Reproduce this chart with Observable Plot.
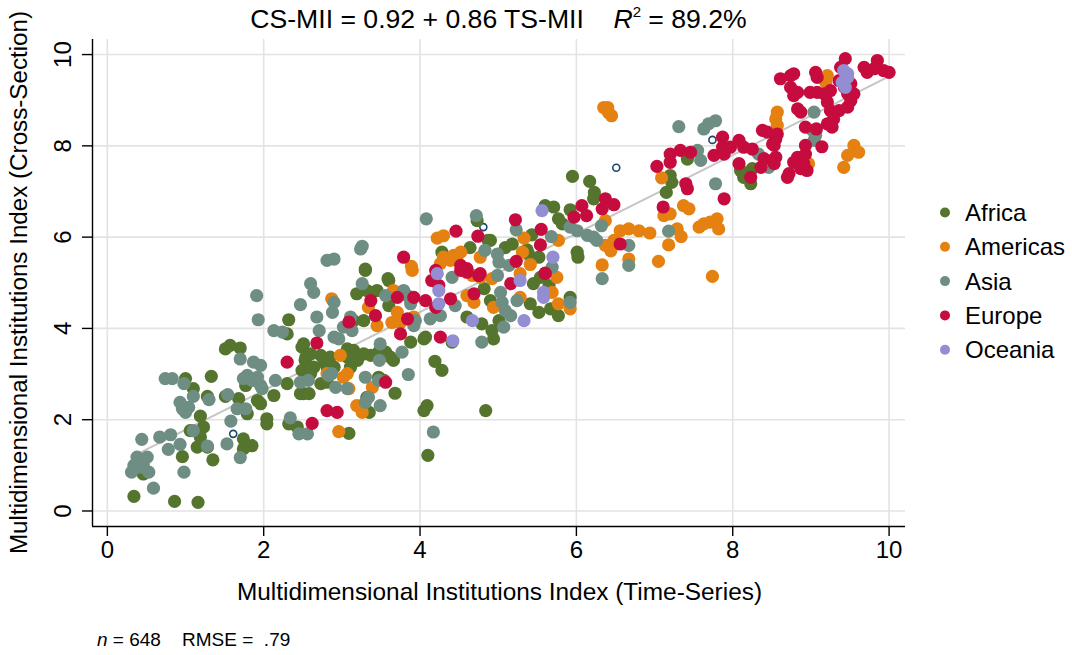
<!DOCTYPE html>
<html><head><meta charset="utf-8">
<script src="https://cdn.jsdelivr.net/npm/d3@7"></script>
<script src="https://cdn.jsdelivr.net/npm/@observablehq/plot@0.6"></script>
<style>body{margin:0;background:#fff;} #chart svg{display:block;}</style>
</head><body><div id="chart"></div>
<script>
// ---- data: [time-series MII, cross-section MII] ----
const regions = ["Africa","Americas","Asia","Europe","Oceania"];
const regionColors = ["#55752f","#e58110","#6e8e84","#c60c3e","#938dd2"];

const africa = [
[2.32,4.19],[2.30,3.88],[1.51,3.55],[1.57,3.63],[1.70,3.57],[1.00,2.90],[1.33,2.95],[1.10,2.68],[1.28,2.51],[1.51,2.51],
[1.68,2.46],[1.19,2.08],[1.06,1.76],[1.23,1.84],[1.19,1.62],[1.15,1.40],[1.28,1.40],[0.96,1.19],[1.35,1.12],[0.46,0.81],
[0.34,0.32],[0.86,0.21],[1.16,0.19],[1.74,1.58],[1.85,1.43],[1.74,1.36],[1.79,2.13],[2.04,2.02],[2.04,1.91],[1.92,2.42],
[1.96,2.35],[2.13,2.53],[2.30,2.79],[2.51,2.57],[2.32,1.91],[2.43,1.84],[2.51,3.66],[2.54,3.37],[1.77,2.75],
[3.30,5.27],[3.60,5.05],[3.19,4.76],[3.32,4.83],[3.45,4.83],[3.60,4.50],[3.28,4.17],[3.15,4.17],
[2.49,3.59],[2.60,3.44],[2.53,3.30],[2.64,3.15],[2.49,3.08],[2.60,3.01],[2.47,2.57],[2.58,2.57],
[2.73,3.41],[2.85,3.37],[2.77,3.26],[2.81,3.15],[2.90,3.15],
[3.07,3.55],[3.15,3.52],[3.07,3.37],[3.20,3.30],[3.11,3.15],[3.28,3.44],[3.37,3.41],
[3.56,3.48],[3.62,3.37],[3.66,3.30],[3.88,3.70],[4.05,3.77],[3.47,3.48],
[2.73,2.79],[2.81,2.82],[3.47,2.93],[3.54,2.86],[3.68,2.58],[3.32,2.49],[3.35,2.16],[3.09,1.70],[4.09,2.31],[4.05,2.20],
[4.19,3.28],[4.28,3.08],[4.10,1.22],[4.84,2.20],[4.79,4.10],[4.92,3.95],[4.94,3.77],[4.41,3.70],[4.07,3.81],[4.82,4.87],[4.60,4.25],
[5.45,4.98],[5.54,5.12],[5.65,4.94],[5.41,4.54],[5.52,4.35],[5.67,4.43],[5.77,4.28],[5.92,4.68],[4.90,4.61],[5.01,4.17],
[4.73,6.36],[4.87,5.93],[3.30,5.30],[4.64,5.77],[4.28,5.67],[3.59,5.09],
[5.95,7.33],[6.17,7.22],[6.23,6.98],[6.22,6.84],[5.92,6.60],[5.77,6.40],[5.82,6.29],[5.71,6.66],[5.60,6.69],[6.01,5.67],
[6.02,5.56],[5.43,6.05],[5.09,5.77],[5.18,5.85],[4.90,5.93],[5.39,5.63],[5.52,5.56],[5.37,5.72],[7.20,7.35],[7.22,7.20],
[7.15,6.98],[7.42,7.71],[8.10,7.46],[8.14,7.31],[8.23,7.17],[8.25,7.50]
];
const americas = [
[2.87,4.65],[3.34,4.46],[3.45,4.06],[3.66,4.83],[3.71,4.35],[3.64,4.13],[3.75,4.13],[2.98,3.41],[3.02,2.93],[3.07,3.01],
[3.09,2.68],[3.39,2.71],[3.19,2.31],[3.26,2.16],[2.96,1.74],[2.81,3.01],[3.90,5.27],[4.67,5.16],[4.77,5.12],[4.92,5.09],
[4.60,4.72],[4.69,4.57],[4.94,4.46],[3.88,4.61],[3.92,4.25],
[5.28,5.20],[5.28,4.68],[5.75,5.12],[5.69,4.79],[5.77,4.54],[5.92,4.43],[7.74,5.14],
[4.22,5.98],[4.30,6.03],[3.89,5.36],[4.30,5.56],[4.43,5.60],[4.52,5.67],[4.77,5.56],[4.26,5.42],[4.39,5.49],[4.47,5.56],
[6.37,6.36],[6.56,6.14],[6.67,6.18],[6.80,6.14],[6.94,6.09],[6.37,5.82],[6.48,5.93],[6.44,5.70],[6.67,5.52],[6.33,5.39],
[7.05,5.47],[5.33,5.98],[5.77,5.93],[5.31,5.67],[5.41,5.40],[7.09,7.30],[7.12,6.47],[7.20,6.51],[7.37,6.69],[7.44,6.62],
[7.29,6.18],[7.34,6.01],[7.18,5.83],[7.57,6.22],
[7.63,6.29],[7.71,6.33],[7.80,6.40],[7.82,6.18],[8.57,8.74],[8.55,8.59],[8.57,8.45],[8.91,7.64],[8.97,7.61],[9.21,9.54],
[9.19,9.39],[9.55,8.01],[9.47,7.79],[9.61,7.86],[9.42,7.53],
[6.35,8.84],[6.40,8.84],[6.45,8.66],[6.41,8.73]
];
const asia = [
[1.91,4.72],[1.93,4.19],[2.47,4.52],[2.60,4.98],[2.13,3.95],[2.24,3.92],[1.70,3.33],[1.87,3.26],[1.96,3.19],
[1.79,2.97],[1.74,2.90],[1.92,2.93],[1.96,2.75],[1.85,2.86],[1.98,2.68],[2.15,2.86],[2.47,2.82],[2.57,2.86],
[0.74,2.90],[0.83,2.90],[0.98,2.79],[1.10,2.51],[1.30,2.44],[0.93,2.38],[0.96,2.24],[1.04,2.27],[1.00,2.16],
[1.54,2.55],[1.66,2.24],[1.77,2.24],[1.58,1.97],[1.10,1.76],[0.44,1.57],[0.67,1.62],[0.81,1.67],[0.78,1.35],
[0.93,1.46],[1.28,1.42],[1.53,1.47],[1.70,1.17],[0.38,1.18],[0.51,1.18],[0.34,1.00],[0.31,0.85],[0.46,1.03],
[0.53,0.85],[0.42,0.96],[0.98,0.85],[0.59,0.50],[2.34,2.04],[2.45,1.69],[2.56,1.69],
[2.64,4.79],[2.90,4.57],[2.88,4.35],[2.68,4.25],[2.71,3.95],[3.26,4.98],[3.56,4.72],[3.11,4.25],[3.02,4.03],[3.13,3.95],
[2.90,3.81],[2.96,3.77],[3.49,3.66],[3.77,3.48],[3.48,3.30],[3.85,2.99],[3.30,2.93],[3.47,2.86],[2.87,3.01],[2.83,2.97],
[2.92,2.71],[3.07,2.68],[3.34,2.49],[3.30,2.38],[3.49,2.31],[4.17,1.73],[4.41,5.12],[4.79,3.70],[4.26,4.28],[4.13,4.21],
[4.45,4.50],[3.94,4.17],[3.92,4.06],[3.79,4.83],[3.84,4.72],[3.88,4.54],[4.99,5.16],
[5.03,4.79],[5.05,4.57],[5.09,4.39],[5.16,4.28],[5.24,4.61],[5.07,4.03],[5.92,4.57],[6.33,5.09],
[4.08,6.40],[4.72,6.47],[3.26,5.80],[3.24,5.74],[2.81,5.49],[2.90,5.52],[4.83,5.71],[4.99,5.63],
[5.92,6.22],[6.01,6.14],[6.14,6.04],[6.22,6.00],[6.26,5.93],[6.32,6.25],[6.67,5.82],[6.67,5.38],[5.23,6.16],[5.68,6.01],
[5.01,5.45],[5.14,5.38],[5.69,5.34],[7.18,6.13],
[7.78,8.55],[7.69,8.48],[7.63,8.37],[7.55,7.90],[7.59,7.68],[7.78,7.17],[8.33,7.82],[8.46,7.53],[9.04,8.74],[9.02,8.34],
[9.06,8.23],[9.04,8.12],[7.31,8.42]
];
const europe = [
[2.30,3.26],[2.62,1.92],
[3.09,4.14],[3.37,4.61],[3.43,4.28],[3.71,4.68],[3.75,3.88],[3.84,4.21],[3.92,4.68],[4.07,4.61],[4.15,5.05],[4.24,4.94],
[4.20,4.46],[4.39,4.65],[4.26,3.81],[4.52,5.27],[4.60,5.23],[4.75,5.16],[4.69,4.76],[2.68,3.68],[3.56,2.82],[2.81,2.20],[2.94,2.16],
[5.16,4.98],[5.60,5.20],
[4.46,6.13],[4.74,6.02],[3.79,5.56],[4.52,5.38],[4.60,5.31],[4.77,5.20],[4.20,5.27],
[6.37,6.84],[6.48,6.71],[6.33,6.62],[6.07,6.69],[6.13,6.47],[5.97,6.44],[6.56,5.85],[5.22,6.38],[5.55,6.17],[5.54,5.83],
[5.23,5.47],[5.60,5.21],[7.11,6.66],[7.03,7.55],[7.40,7.17],[7.42,7.06],[7.20,7.82],[7.33,7.90],[7.46,7.86],[7.20,7.64],
[7.87,8.19],[7.87,7.97],[8.08,8.12],[7.97,7.97],[7.76,7.79],[7.89,7.82],[8.14,7.97],[8.25,7.93],[8.08,7.61],[7.89,6.84],
[8.23,7.31],[8.36,7.53],[8.40,7.72],[8.51,7.68],[8.55,7.75],[8.53,7.61],[8.38,8.34],[8.44,8.30],[8.57,8.26],[8.51,8.04],
[8.72,7.39],[8.70,7.31],[8.87,7.50],[8.91,7.61],[8.93,8.01],[8.93,7.82],[8.93,8.41],[8.83,8.81],[8.87,8.74],[9.07,8.37],
[9.14,7.98],[8.61,9.47],[8.74,9.54],[8.78,9.58],[8.74,9.28],[8.83,9.17],[8.78,9.10],[8.99,9.17],[9.08,9.17],[9.17,9.14],
[9.06,9.61],[9.08,9.50],[9.25,9.21],[9.21,8.96],[9.25,8.77],[9.29,8.59],[9.21,8.48],[9.27,8.41],[9.38,9.72],[9.44,9.91],
[9.36,9.43],[9.47,9.14],[9.51,8.99],[9.47,8.85],[9.36,8.77],[9.51,9.36],[9.43,9.28],[9.55,9.14],[9.68,9.72],[9.72,9.61],
[9.85,9.87],[9.81,9.69],[9.93,9.65],[10.0,9.61],[8.95,7.46],[8.55,8.15],[8.53,8.01],[8.83,7.75],[8.78,7.64]
];
const oceania = [
[4.22,5.20],[4.24,4.83],[4.24,4.54],[4.67,4.17],[4.42,3.73],[5.28,5.05],[5.58,4.79],[5.58,4.68],[5.33,4.17],[5.56,6.58],
[5.70,5.56],[9.42,9.65],[9.47,9.58],[9.40,9.39],[9.44,9.28],[9.47,9.50]
];
const unassigned = [[1.61,1.69],[4.81,6.22],[6.51,7.52],[7.74,8.13]];

const xTicks = [0,2,4,6,8,10];
const yTicks = [0,2,4,6,8,10];
const fitIntercept = 0.92, fitSlope = 0.86;
const r2Label = "89.2%";
const nObs = 648, rmseLabel = ".79";
const xTitle = "Multidimensional Institutions Index (Time-Series)";
const yTitle = "Multidimensional Institutions Index (Cross-Section)";

// ---- build ----
const series = [africa, americas, asia, europe, oceania];
const rows = [];
series.forEach((arr, i) => arr.forEach(([ts, cs]) => rows.push({region: regions[i], ts, cs})));
const others = unassigned.map(([ts, cs]) => ({ts, cs}));
const all = rows.concat(others);
const xmin = d3.min(all, d => d.ts), xmax = d3.max(all, d => d.ts);
const fit = [xmin, xmax].map(x => ({ts: x, cs: fitIntercept + fitSlope * x}));

const xDomain = [-0.19, 10.21], yDomain = [-0.34, 10.33];
const font = "'Liberation Sans', Arial, Helvetica, sans-serif";

const svg = Plot.plot({
  width: 1072, height: 655,
  marginLeft: 92, marginRight: 167, marginTop: 39, marginBottom: 129,
  style: {fontFamily: font, fontSize: "24px", background: "#fff", color: "#000"},
  x: {domain: xDomain},
  y: {domain: yDomain},
  color: {domain: regions, range: regionColors},
  marks: [
    Plot.gridX(xTicks, {stroke: "#e3e3e3", strokeOpacity: 1, strokeWidth: 1.6}),
    Plot.gridY(yTicks, {stroke: "#e3e3e3", strokeOpacity: 1, strokeWidth: 1.6}),
    Plot.ruleX([xDomain[0]], {stroke: "#000", strokeWidth: 1.4}),
    Plot.ruleY([yDomain[0]], {stroke: "#000", strokeWidth: 1.4}),
    Plot.axisX(xTicks, {tickSize: 10, tickPadding: 4, fontSize: 24, label: null, strokeWidth: 1.4}),
    Plot.axisY(yTicks, {tickSize: 10, tickFormat: () => "", label: null, strokeWidth: 1.4}),
    Plot.text(yTicks, {y: d => d, text: d => String(d), frameAnchor: "left", dx: -22, rotate: -90,
      lineAnchor: "bottom", textAnchor: "middle", fontSize: 24, fill: "#000"}),
    Plot.line(fit, {x: "ts", y: "cs", stroke: "#c6c6c6", strokeWidth: 2}),
    Plot.dot(others, {x: "ts", y: "cs", r: 3.5, stroke: "#1a476f", strokeWidth: 1.6, fill: "#fff"}),
    Plot.dot(rows, {x: "ts", y: "cs", r: 6.6, fill: "region", stroke: null})
  ]
});

const s = d3.select(svg);
// title
const t = s.append("text").attr("x", 498.5).attr("y", 28).attr("text-anchor", "middle")
  .attr("font-size", 26.6).attr("font-family", font).attr("fill", "#000").style("white-space", "pre");
t.append("tspan").text(`CS-MII = ${fitIntercept.toFixed(2)} + ${fitSlope.toFixed(2)} TS-MII    `);
t.append("tspan").attr("font-style", "italic").text("R");
t.append("tspan").attr("font-size", 15).attr("dy", -11).text("2");
t.append("tspan").attr("dy", 11).text(` = ${r2Label}`);
// axis titles
s.append("text").attr("x", 499.5).attr("y", 600).attr("text-anchor", "middle")
  .attr("font-size", 24.4).attr("font-family", font).attr("fill", "#000").text(xTitle);
s.append("text").attr("transform", "translate(27,282.5) rotate(-90)").attr("text-anchor", "middle")
  .attr("font-size", 24.2).attr("font-family", font).attr("fill", "#000").text(yTitle);
// legend
regions.forEach((r, i) => {
  const cy = 212.5 + 34.3 * i;
  s.append("circle").attr("cx", 945).attr("cy", cy).attr("r", 5).attr("fill", regionColors[i]);
  s.append("text").attr("x", 965).attr("y", cy + 8.5).attr("text-anchor", "start")
    .attr("font-size", 24).attr("font-family", font).attr("fill", "#000").text(r);
});
// footnote
const f = s.append("text").attr("x", 97).attr("y", 646).attr("text-anchor", "start")
  .attr("font-size", 19).attr("font-family", font).attr("fill", "#000").style("white-space", "pre");
f.append("tspan").attr("font-style", "italic").text("n");
f.append("tspan").text(` = ${nObs}    RMSE =  ${rmseLabel}`);

document.getElementById("chart").appendChild(svg);
</script>
</body></html>
